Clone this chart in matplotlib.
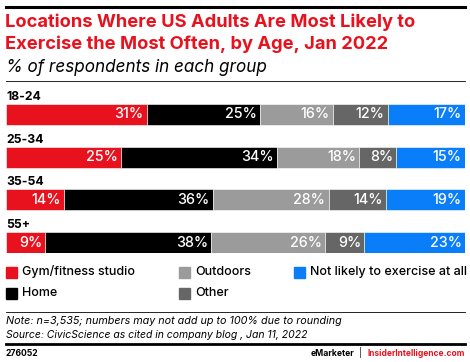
import numpy as np
import matplotlib.pyplot as plt
from matplotlib.patches import Rectangle
from matplotlib.lines import Line2D

# === Data ===
age_groups = ["18-24", "25-34", "35-54", "55+"]
categories = ["Gym/fitness studio", "Home", "Outdoors", "Other", "Not likely to exercise at all"]
gym = [31, 25, 14, 9]
home = [25, 34, 36, 38]
outdoors = [16, 18, 28, 26]
other = [12, 8, 14, 9]
not_likely = [17, 15, 19, 23]
colors = ["#E8111E", "#000000", "#9B9B9B", "#666666", "#0A7EF9"]

W, H = 470, 362
fig = plt.figure(figsize=(W / 100, H / 100), dpi=100)
plt.rcParams['font.family'] = ['Inter', 'DejaVu Sans']


def fy(y):
    return 1 - y / H


def fx(x):
    return x / W


def hline(y, lw):
    fig.add_artist(Line2D([fx(6), fx(465)], [fy(y), fy(y)], color="black", lw=lw,
                          transform=fig.transFigure))


# header
hline(7, 2.2)
fig.text(fx(5), fy(22), "Locations Where US Adults Are Most Likely to", color="#E8111E",
         fontsize=13.2, fontweight="bold", va="center")
fig.text(fx(5), fy(44), "Exercise the Most Often, by Age, Jan 2022", color="#E8111E",
         fontsize=13.2, fontweight="bold", va="center")
fig.text(fx(6), fy(67), "% of respondents in each group", color="black",
         fontsize=12.3, style="italic", va="center")
hline(81, 0.6)

# bars
series = np.array([gym, home, outdoors, other, not_likely], dtype=float)
totals = series.sum(axis=0)
shares = series / totals * 100

ax = fig.add_axes([fx(6), fy(253), fx(459), (253 - 104) / H])
ypos = np.arange(len(age_groups))
left = np.zeros(len(age_groups))
for vals, share, col in zip(series, shares, colors):
    ax.barh(ypos, share, left=left, height=0.492, color=col, edgecolor="white", linewidth=0.4)
    for i, (v, s, l) in enumerate(zip(vals, share, left)):
        ax.text(l + s - 0.7, ypos[i], f"{int(v)}%", color="white", fontsize=10.3,
                fontweight="medium", ha="right", va="center")
    left += share
for i, g in enumerate(age_groups):
    ax.text(0, ypos[i] - 0.41, g, fontsize=8.8, fontweight="bold", ha="left", va="center")
ax.set_xlim(0, 100)
ax.set_ylim(3.246, -0.246)
ax.axis("off")

# legend
leg_pos = [(6, 272), (6, 293), (179, 272), (179, 293), (294, 272)]
for (x, y), cat, col in zip(leg_pos, categories, colors):
    fig.add_artist(Rectangle((fx(x), fy(y + 5.5)), fx(11), 11 / H, color=col,
                             transform=fig.transFigure))
    fig.text(fx(x + 16), fy(y), cat, fontsize=9, fontweight="medium", va="center")

# footer
hline(312, 0.6)
fig.text(fx(6), fy(321), "Note: n=3,535; numbers may not add up to 100% due to rounding",
         fontsize=7.75, style="italic", va="center")
fig.text(fx(6), fy(335), "Source: CivicScience as cited in company blog , Jan 11, 2022",
         fontsize=7.5, style="italic", va="center")
hline(344, 2.0)
fig.text(fx(6), fy(353), "276052", fontsize=6.2, fontweight="bold", va="center")
fig.text(fx(465), fy(353), "InsiderIntelligence.com", fontsize=6.05, fontweight="bold",
         color="#E8111E", ha="right", va="center")
fig.text(fx(360), fy(353), "|", fontsize=6.3, color="black", ha="center", va="center")
fig.text(fx(354), fy(353), "eMarketer", fontsize=6.2, fontweight="bold",
         color="black", ha="right", va="center")

fig.savefig("out.png", dpi=100)
